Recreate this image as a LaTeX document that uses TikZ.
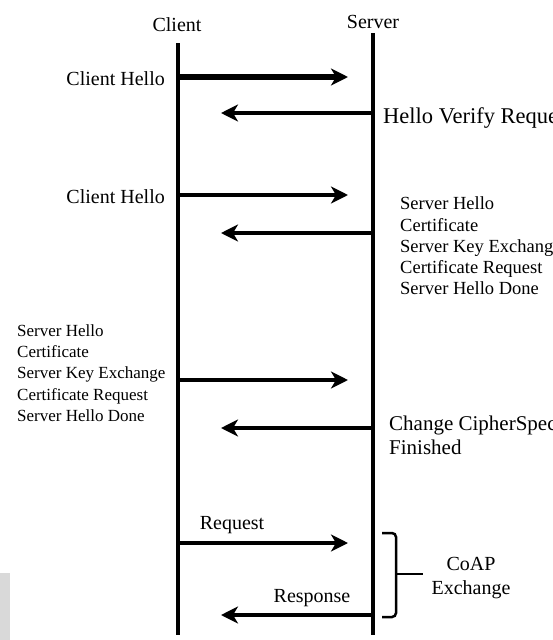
\documentclass[tikz,border=0pt]{standalone}
\usepackage{fontspec}
\setmainfont{Liberation Serif}
\usetikzlibrary{arrows.meta}

\begin{document}
\begin{tikzpicture}[x=1pt,y=1pt]
\tikzset{life/.style={line width=4.5pt},
  msg/.style={line width=4.5pt,-{Stealth[length=17pt,width=17pt,inset=5pt]}},
  lbl/.style={font=\fontsize{20}{24}\selectfont,inner sep=0pt},
  blk/.style={font=\fontsize{17}{21.2}\selectfont,inner sep=0pt,align=left}}
\useasboundingbox (0,0) rectangle (552,-640);
\fill [gray!30] (0,-573) rectangle (10,-640);
\node [lbl] (client) at (177,-25) {Client};
\node [lbl] (server) at (373,-22) {Server};
\coordinate (ctop) at (178,-43);
\coordinate (cbot) at (178,-635);
\coordinate (stop) at (373,-33);
\coordinate (sbot) at (373,-635);
\draw [life] (ctop) -- (cbot);
\draw [life] (stop) -- (sbot);
\coordinate (c1) at (178,-77);
\coordinate (t1) at (348,-77);
\draw [msg,line width=6pt] (c1) -- (t1);
\node [lbl,anchor=east] (hello1) at (165,-79) {Client Hello};
\coordinate (s2) at (373,-113);
\coordinate (t2) at (221,-113);
\draw [msg] (s2) -- (t2);
\node [lbl,anchor=west,font=\fontsize{22.5}{26}\selectfont] (verify) at (383,-118) {Hello Verify Request};
\coordinate (c3) at (178,-195);
\coordinate (t3) at (348,-195);
\draw [msg] (c3) -- (t3);
\node [lbl,anchor=east] (hello2) at (165,-197) {Client Hello};
\coordinate (s4) at (373,-233);
\coordinate (t4) at (221,-233);
\draw [msg] (s4) -- (t4);
\node [blk,anchor=west,font=\fontsize{18.5}{21.2}\selectfont] (srvmsgs) at (400,-246) {Server Hello\\Certificate\\Server Key Exchange\\Certificate Request\\Server Hello Done};
\coordinate (c5) at (178,-380);
\coordinate (t5) at (348,-380);
\draw [msg] (c5) -- (t5);
\node [blk,anchor=west] (climsgs) at (17,-373) {Server Hello\\Certificate\\Server Key Exchange\\Certificate Request\\Server Hello Done};
\coordinate (s6) at (373,-428);
\coordinate (t6) at (221,-428);
\draw [msg] (s6) -- (t6);
\node [lbl,anchor=west,align=left,font=\fontsize{21}{24}\selectfont] (cipher) at (389,-435) {Change CipherSpec\\Finished};
\coordinate (c7) at (178,-543);
\coordinate (t7) at (348,-543);
\draw [msg] (c7) -- (t7);
\node [lbl] (req) at (232,-525) {Request};
\coordinate (s8) at (373,-615);
\coordinate (t8) at (221,-615);
\draw [msg] (s8) -- (t8);
\node [lbl] (resp) at (312,-598) {Response};
\draw [line width=2.5pt,rounded corners=4pt] (382,-533) -- (396,-533) -- (396,-617) -- (382,-617);
\coordinate (bmid) at (396,-574);
\coordinate (btip) at (423,-574);
\draw [line width=2.5pt] (bmid) -- (btip);
\node [lbl,align=center] (coap) at (471,-578) {CoAP\\Exchange};
\end{tikzpicture}
\end{document}
